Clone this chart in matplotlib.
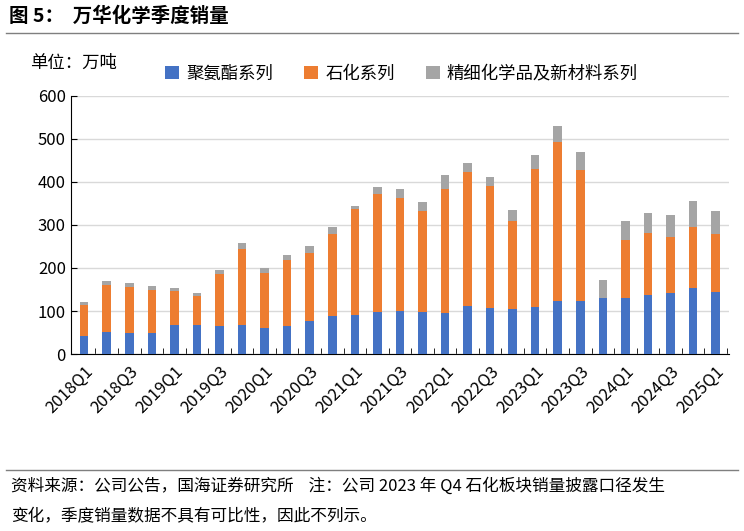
import numpy as np
import matplotlib.pyplot as plt

plt.rcParams['font.family'] = ['Noto Sans CJK SC', 'DejaVu Sans']

quarters = [f'{y}Q{q}' for y in range(2018, 2025) for q in range(1, 5)] + ['2025Q1']
pu = [43, 52, 48, 50, 67, 68, 65, 67, 60, 65, 77, 89, 92, 97, 100, 97,
      95, 111, 107, 104, 110, 123, 124, 130, 131, 138, 141, 154, 145]
petro_top = [115, 160, 155, 148, 147, 135, 185, 245, 188, 218, 235, 278, 337, 372, 362, 332,
             383, 422, 390, 308, 430, 492, 428, 130, 266, 280, 273, 295, 279]
total = [121, 170, 164, 158, 153, 142, 195, 257, 199, 229, 250, 296, 343, 388, 384, 353,
         415, 444, 411, 335, 463, 530, 470, 172, 308, 327, 322, 355, 332]

pu = np.array(pu)
petro = np.array(petro_top) - pu
fine = np.array(total) - np.array(petro_top)

fig = plt.figure(figsize=(7.44, 5.31), dpi=100)
ax = fig.add_axes([0.095, 0.333, 0.885, 0.487])
x = np.arange(len(quarters))
w = 0.38
ax.bar(x, pu, w, color='#4472C4', label='聚氨酯系列', zorder=3)
ax.bar(x, petro, w, bottom=pu, color='#ED7D31', label='石化系列', zorder=3)
ax.bar(x, fine, w, bottom=pu + petro, color='#A5A5A5', label='精细化学品及新材料系列', zorder=3)

ax.set_ylim(0, 600)
ax.set_xlim(-0.6, len(x) - 0.4)
ax.set_yticks(range(0, 601, 100))
ax.yaxis.grid(True, color='#d9d9d9', lw=1, zorder=0)
ax.set_xticks(x[::2])
ax.set_xticklabels(quarters[::2], rotation=45, ha='right', rotation_mode='anchor', fontsize=12)
ax.set_xticks(x + 0.5, minor=True)
ax.tick_params(axis='x', which='major', length=0, pad=6)
ax.tick_params(axis='x', which='minor', length=4, direction='in')
ax.tick_params(axis='y', labelsize=12, direction='in', length=4)
for s in ['top', 'right']:
    ax.spines[s].set_visible(False)
ax.legend(loc='lower left', bbox_to_anchor=(0.12, 0.99), ncol=3, frameon=False,
          fontsize=12.5, handlelength=0.8, handleheight=0.8, columnspacing=1.8, handletextpad=0.4)

fig.text(0.04, 0.873, '单位：万吨', fontsize=12.5)
fig.text(0.012, 0.958, '图 5：  万华化学季度销量', fontsize=14, fontweight='bold')
fig.add_artist(plt.Line2D([0.008, 0.992], [0.938, 0.938], color='#7f7f7f', lw=1))
fig.add_artist(plt.Line2D([0.008, 0.992], [0.115, 0.115], color='#7f7f7f', lw=1))
fig.text(0.015, 0.075, '资料来源：公司公告，国海证券研究所    注：公司 2023 年 Q4 石化板块销量披露口径发生',
         fontsize=12)
fig.text(0.015, 0.018, '变化，季度销量数据不具有可比性，因此不列示。', fontsize=12)

fig.savefig('out.png', dpi=100)
